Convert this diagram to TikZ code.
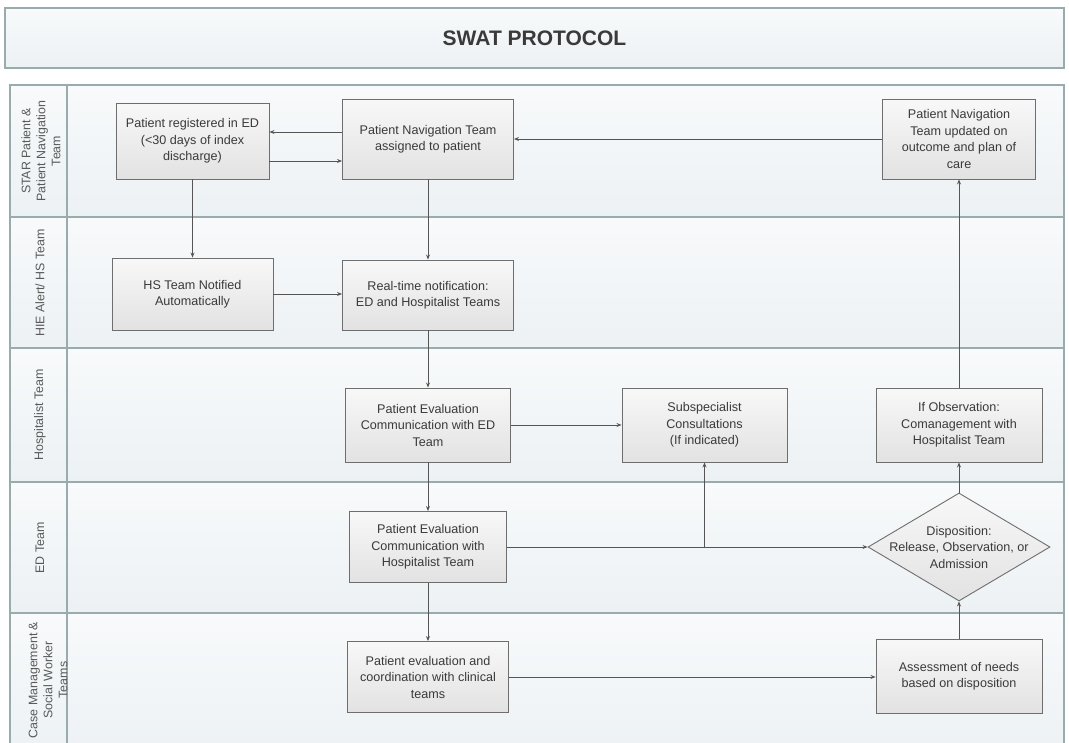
\documentclass[tikz,border=0pt]{standalone}
\usepackage{fontspec}
\setmainfont{Liberation Sans}
\usetikzlibrary{positioning, arrows.meta, shapes.geometric}
\definecolor{laneedge}{HTML}{9AABAE}
\definecolor{lanehi}{HTML}{F8FAFB}
\definecolor{lanelo}{HTML}{ECF1F4}
\definecolor{boxedge}{HTML}{6E6E6E}
\definecolor{boxhi}{HTML}{F8F8F8}
\definecolor{boxlo}{HTML}{E2E2E2}
\definecolor{inkgray}{HTML}{3A3A3A}
\definecolor{linkgray}{HTML}{555555}

\begin{document}
\begin{tikzpicture}[
  x=1pt, y=-1pt,
  every node/.style={font=\fontsize{12.6}{16.5}\selectfont, text=inkgray},
  titlebar/.style={
    rectangle, draw=laneedge, line width=1.2pt, top color=lanehi, bottom color=lanelo,
    font=\fontsize{21}{25}\selectfont\bfseries, text=inkgray,
    minimum width=1059pt, minimum height=60pt, inner sep=0pt
  },
  lane/.style={draw=laneedge, line width=1.2pt, top color=lanehi, bottom color=lanelo},
  lanelabel/.style={
    rotate=90, align=center, inner sep=0pt, text=black!65,
    font=\fontsize{12.4}{15}\selectfont
  },
  stepbox/.style n args={2}{
    rectangle, draw=boxedge, line width=0.9pt, top color=boxhi, bottom color=boxlo,
    minimum width=#1, minimum height=#2, align=center, inner sep=2pt
  },
  decision/.style n args={2}{
    diamond, draw=boxedge, line width=0.9pt, top color=boxhi, bottom color=boxlo,
    minimum width=#1, minimum height=#2, inner sep=0pt
  },
  flowarrow/.style={
    line width=0.9pt, -{Stealth[length=5pt, width=4pt]}, color=linkgray
  }
]
\useasboundingbox (0,0) rectangle (1069,743);

%% Column x-positions
\def\xA{192.5}
\def\xB{428}
\def\xC{704.5}
\def\xD{959}

%% === TITLE ===
\node[titlebar] (title) at (534.5,38) {SWAT PROTOCOL};

%% === LANES ===
\draw[lane] (10,85)  rectangle (1064,217);
\draw[lane] (10,217) rectangle (1064,348);
\draw[lane] (10,348) rectangle (1064,482);
\draw[lane] (10,482) rectangle (1064,613);
\draw[lane] (10,613) rectangle (1064,760);
\draw[laneedge, line width=1.6pt] (67,85) -- (67,743);

\node[lanelabel] (lab1) at (41,151) {STAR Patient \&\\Patient Navigation\\Team};
\node[lanelabel] (lab2) at (40,283) {HIE Alert/ HS Team};
\node[lanelabel] (lab3) at (40,415) {Hospitalist Team};
\node[lanelabel] (lab4) at (40,548) {ED Team};
\node[lanelabel] (lab5) at (48,680) {Case Management \&\\Social Worker\\Teams};

%% === LANE 1: STAR / PATIENT NAVIGATION ===
\node[stepbox={153pt}{76pt}] (reg) at (\xA,141) {Patient registered in ED\\(<30 days of index\\discharge)};
\node[stepbox={171pt}{80pt}] (pn)  at (\xB,139) {Patient Navigation Team\\assigned to patient};
\node[stepbox={153pt}{80pt}] (upd) at (\xD,139) {Patient Navigation\\Team updated on\\outcome and plan of\\care};

%% === LANE 2: HIE ALERT / HS ===
\node[stepbox={161pt}{72pt}] (hs) at (\xA,294) {HS Team Notified\\Automatically};
\node[stepbox={171pt}{70pt}] (rt) at (\xB,295) {Real-time notification:\\ED and Hospitalist Teams};

%% === LANE 3: HOSPITALIST ===
\node[stepbox={165pt}{74pt}] (peed) at (\xB,425) {Patient Evaluation\\Communication with ED\\Team};
\node[stepbox={165pt}{74pt}] (sub)  at (\xC,425) {Subspecialist\\Consultations\\(If indicated)};
\node[stepbox={166pt}{74pt}] (obs)  at (\xD,425) {If Observation:\\Comanagement with\\Hospitalist Team};

%% === LANE 4: ED ===
\node[stepbox={157pt}{71pt}] (peh) at (\xB,547) {Patient Evaluation\\Communication with\\Hospitalist Team};
\node[decision={182pt}{108pt},
      label={[align=center]center:Disposition:\\Release, Observation, or\\Admission}]
  (dispo) at (\xD,547) {};

%% === LANE 5: CASE MANAGEMENT / SOCIAL WORK ===
\node[stepbox={161pt}{71pt}] (coord)  at (\xB,677) {Patient evaluation and\\coordination with clinical\\teams};
\node[stepbox={166pt}{74pt}] (assess) at (\xD,676) {Assessment of needs\\based on disposition};

%% === CONNECTORS ===
\draw[flowarrow] ([yshift=7pt]pn.west) -- ([yshift=7pt]pn.west -| reg.east);
\draw[flowarrow] ([yshift=-20pt]reg.east) -- ([yshift=-20pt]reg.east -| pn.west);
\draw[flowarrow] (reg.south) -- (hs.north);
\draw[flowarrow] (hs.east) -- (hs.east -| rt.west);
\draw[flowarrow] (pn.south) -- (rt.north);
\draw[flowarrow] (rt.south) -- (peed.north);
\draw[flowarrow] (peed.south) -- (peh.north);
\draw[flowarrow] (peh.south) -- (coord.north);
\draw[flowarrow] (peed.east) -- (peed.east -| sub.west);
\draw[flowarrow] (peh.east) -- (dispo.west);
\draw[flowarrow] (sub.south |- peh.east) -- (sub.south);
\draw[flowarrow] (coord.east) -- (coord.east -| assess.west);
\draw[flowarrow] (assess.north) -- (dispo.south);
\draw[flowarrow] (dispo.north) -- (obs.south);
\draw[flowarrow] (obs.north) -- (upd.south);
\draw[flowarrow] (upd.west) -- (upd.west -| pn.east);

\end{tikzpicture}
\end{document}
